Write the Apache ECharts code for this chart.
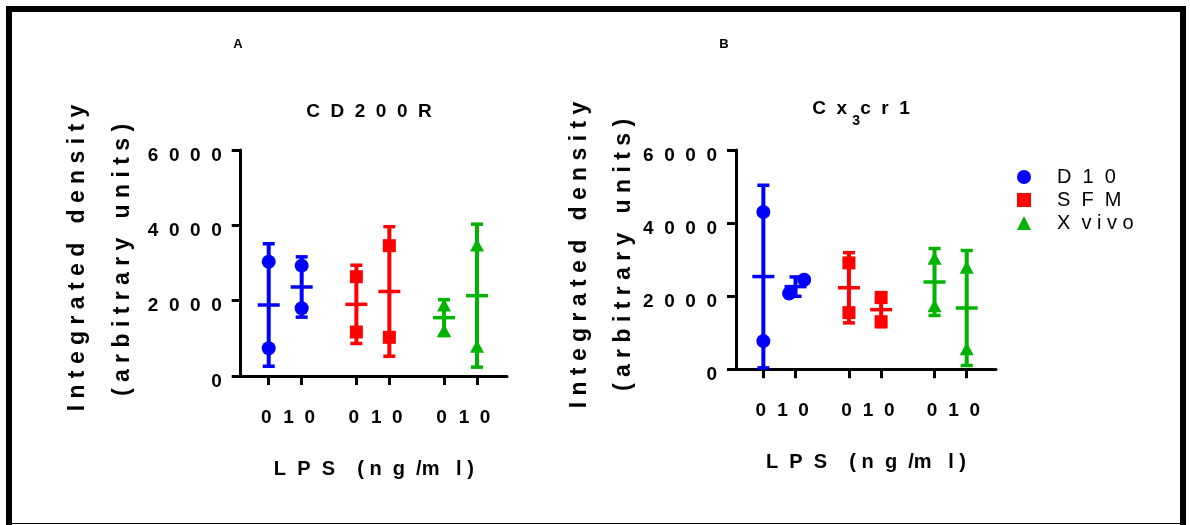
<!DOCTYPE html>
<html>
<head>
<meta charset="utf-8">
<script src="https://cdn.jsdelivr.net/npm/echarts@6/dist/echarts.min.js"></script>
<style>
  html, body { margin: 0; padding: 0; background: #fff; }
  #chart { width: 1190px; height: 525px; }
</style>
</head>
<body>
<div id="chart"></div>
<script>
// LPS doses (ng/ml) and culture media
const lpsLevels = ['0', '10'];
const mediumLabels = ['D  1  0', 'S  F  M', 'X  v i v o'];
const mediumColors = ['#0000FF', '#FF0000', '#00B300'];
const mediumSymbols = ['circle', 'rect', 'triangle'];

// Integrated density (arbitrary units): replicates per LPS dose [LPS 0, LPS 10]
// CD200R
const cd200rD10   = [[3035, 735], [2929, 1797]];
const cd200rSFM   = [[2637, 1168], [3460, 1027]];
const cd200rXvivo = [[1887, 1211], [3475, 791]];
// Cx3cr1
const cx3cr1D10   = [[4304, 771], [2075, 2449]];
const cx3cr1SFM   = [[2910, 1551], [1962, 1302]];
const cx3cr1Xvivo = [[3037, 1741], [2789, 565]];

const yTicks = [0, 2000, 4000, 6000];

const FONT = '"Liberation Sans", Arial, Helvetica, sans-serif';
const spread = (s, gap) => String(s).split('').join(gap);

// horizontal slot of each (medium, dose) column on the x value axis
const GROUP_STRIDE = 2.66;
const slotX = (m, d) => 1 + m * GROUP_STRIDE + d;
const tickSlots = [];
for (let m = 0; m < 3; m++) for (let d = 0; d < 2; d++) tickSlots.push(slotX(m, d));

function mean(a) { return a.reduce((s, v) => s + v, 0) / a.length; }
function sd(a) {
  const mu = mean(a);
  return Math.sqrt(a.reduce((s, v) => s + (v - mu) * (v - mu), 0) / (a.length - 1));
}

function renderErrorBar(params, api) {
  const x = api.value(0), mu = api.value(1), s = api.value(2);
  const top = api.coord([x, mu + s]);
  const bot = api.coord([x, mu - s]);
  const mid = api.coord([x, mu]);
  const color = api.visual('color');
  const line = (x1, y1, x2, y2, w) => ({
    type: 'line', shape: { x1, y1, x2, y2 },
    style: { stroke: color, lineWidth: w }
  });
  return {
    type: 'group',
    children: [
      line(top[0], top[1], bot[0], bot[1], 4),
      line(top[0] - 6, top[1], top[0] + 6, top[1], 3.5),
      line(bot[0] - 6, bot[1], bot[0] + 6, bot[1], 3.5),
      line(mid[0] - 11, mid[1], mid[0] + 11, mid[1], 3.5)
    ]
  };
}

function panelSeries(panelIdx, sets) {
  const out = [];
  sets.forEach((reps, m) => {
    const bars = [];
    const pts = [];
    reps.forEach((vals, d) => {
      const x = slotX(m, d);
      bars.push([x, mean(vals), sd(vals)]);
      // replicates that would overlap are nudged apart sideways
      const close = vals.length === 2 && Math.abs(vals[0] - vals[1]) < 400;
      const order = vals.map((v, i) => i).sort((a, b) => vals[a] - vals[b]);
      vals.forEach((v, i) => {
        const off = close ? (order.indexOf(i) === 0 ? -0.2 : 0.27) : 0;
        pts.push([x + off, v]);
      });
    });
    out.push({
      type: 'custom', xAxisIndex: panelIdx, yAxisIndex: panelIdx,
      renderItem: renderErrorBar, data: bars, z: 3,
      itemStyle: { color: mediumColors[m] }, silent: true
    });
    out.push({
      type: 'scatter', name: mediumLabels[m], xAxisIndex: panelIdx, yAxisIndex: panelIdx,
      symbol: mediumSymbols[m],
      symbolSize: m === 2 ? [14, 13] : (m === 1 ? 13 : 14),
      itemStyle: { color: mediumColors[m], opacity: 1 },
      data: pts, z: 4
    });
  });
  return out;
}

function xAxisFor(idx) {
  return {
    type: 'value', gridIndex: idx, min: 0.15, max: 8.23,
    splitLine: { show: false },
    axisLine: { onZero: false, lineStyle: { color: '#000', width: 3 } },
    axisTick: { customValues: tickSlots, length: 9, lineStyle: { color: '#000', width: 3 } },
    axisLabel: {
      customValues: tickSlots,
      formatter: v => {
        const i = tickSlots.findIndex(t => Math.abs(t - v) < 1e-6);
        return '{t|' + spread(lpsLevels[i % 2], '  ') + '}';
      },
      margin: 28,
      rich: { t: { color: '#000', fontSize: 19, fontWeight: 'bold', fontFamily: FONT, padding: [4, 5, 0, 0] } },
      color: '#000', fontSize: 19, fontWeight: 'bold', fontFamily: FONT
    },
    name: 'L  P  S    ( n  g  /m   l )',
    nameLocation: 'middle', nameGap: 83,
    nameTextStyle: { color: '#000', fontSize: 20, fontWeight: 'bold', fontFamily: FONT }
  };
}

function yAxisFor(idx) {
  return {
    type: 'value', gridIndex: idx, min: yTicks[0], max: yTicks[yTicks.length - 1],
    interval: yTicks[1] - yTicks[0],
    splitLine: { show: false },
    axisLine: { show: true, onZero: false, lineStyle: { color: '#000', width: 3 } },
    axisTick: { show: true, length: 9, lineStyle: { color: '#000', width: 3 } },
    axisLabel: {
      formatter: v => '{t|' + spread(v, '  ') + '}',
      margin: 19,
      rich: { t: { color: '#000', fontSize: 19, fontWeight: 'bold', fontFamily: FONT, padding: [11, 0, 0, 0] } },
      color: '#000', fontSize: 19, fontWeight: 'bold', fontFamily: FONT
    }
  };
}

const yTitleStyle = { font: 'bold 23px ' + FONT, fill: '#000', align: 'center', verticalAlign: 'middle' };
function yTitle(x, y, text) {
  return { type: 'text', x, y, rotation: Math.PI / 2, style: Object.assign({ text }, yTitleStyle) };
}

const option = {
  animation: false,
  backgroundColor: '#fff',
  title: [
    { text: 'A', left: 238, top: 38, padding: 0, textAlign: 'center',
      textStyle: { fontSize: 13, fontWeight: 'bold', color: '#000', fontFamily: FONT } },
    { text: 'B', left: 724, top: 38, padding: 0, textAlign: 'center',
      textStyle: { fontSize: 13, fontWeight: 'bold', color: '#000', fontFamily: FONT } },
    { text: 'C  D  2  0  0  R', left: 369, top: 102, padding: 0, textAlign: 'center',
      textStyle: { fontSize: 19, fontWeight: 'bold', color: '#000', fontFamily: FONT } },
    { text: 'C  x {sub|3}c  r  1', left: 861, top: 90, padding: 0, textAlign: 'center',
      textStyle: {
        fontSize: 19, fontWeight: 'bold', color: '#000', fontFamily: FONT,
        rich: { sub: { fontSize: 14, fontWeight: 'bold', color: '#000', fontFamily: FONT, padding: [24, 0, 0, 0] } }
      } }
  ],
  legend: {
    orient: 'vertical', left: 1012, top: 162,
    itemWidth: 14, itemHeight: 14, itemGap: 3,
    selectedMode: false,
    data: mediumLabels.map((n, i) => ({ name: n, icon: mediumSymbols[i], itemStyle: { color: mediumColors[i] } })),
    textStyle: { fontSize: 20, color: '#000', fontFamily: FONT, padding: [12, 0, 0, 21] }
  },
  grid: [
    { left: 240.7, top: 150, width: 266.3, height: 226 },
    { left: 736, top: 150, width: 260, height: 219.3 }
  ],
  xAxis: [xAxisFor(0), xAxisFor(1)],
  yAxis: [yAxisFor(0), yAxisFor(1)],
  series: [
    ...panelSeries(0, [cd200rD10, cd200rSFM, cd200rXvivo]),
    ...panelSeries(1, [cx3cr1D10, cx3cr1SFM, cx3cr1Xvivo])
  ],
  graphic: [
    // outer frame
    { type: 'rect', shape: { x: 6, y: 6, width: 1180, height: 6 }, style: { fill: '#000' } },
    { type: 'rect', shape: { x: 6, y: 6, width: 6, height: 519 }, style: { fill: '#000' } },
    { type: 'rect', shape: { x: 1180, y: 6, width: 6, height: 519 }, style: { fill: '#000' } },
    { type: 'rect', shape: { x: 6, y: 523, width: 1180, height: 1 }, style: { fill: '#000' } },
    // y-axis titles
    yTitle(78, 258, 'I n t e g r a t e d   d e n s i t y'),
    yTitle(122.5, 260, '( a r b i t r a r y   u n i t s )'),
    yTitle(580, 255, 'I n t e g r a t e d   d e n s i t y'),
    yTitle(624, 255, '( a r b i t r a r y   u n i t s )')
  ]
};

const chart = echarts.init(document.getElementById('chart'), null, { renderer: 'canvas' });
chart.setOption(option);
</script>
</body>
</html>
